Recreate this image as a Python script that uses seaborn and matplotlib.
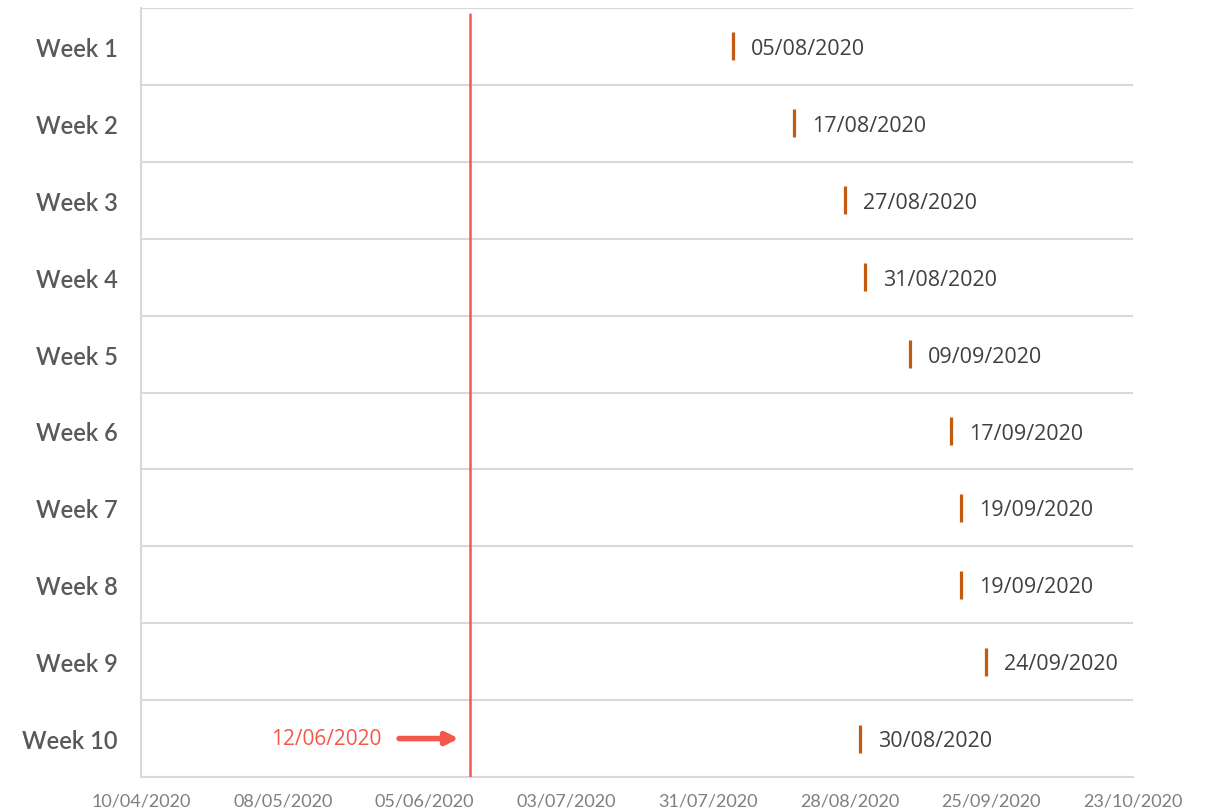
import matplotlib
matplotlib.use("Agg")
import matplotlib.pyplot as plt
import matplotlib.dates as mdates
import seaborn as sns
import pandas as pd

weeks = ["Week 1", "Week 2", "Week 3", "Week 4", "Week 5",
         "Week 6", "Week 7", "Week 8", "Week 9", "Week 10"]
dates = ["2020-08-05", "2020-08-17", "2020-08-27", "2020-08-31", "2020-09-09",
         "2020-09-17", "2020-09-19", "2020-09-19", "2020-09-24", "2020-08-30"]
today_label = "12/06/2020"
today_line = "2020-06-14"
tick_dates = ["2020-04-10", "2020-05-08", "2020-06-05", "2020-07-03",
              "2020-07-31", "2020-08-28", "2020-09-25", "2020-10-23"]

df = pd.DataFrame({"week": weeks, "date": pd.to_datetime(dates)})
df["pos"] = range(len(df))

sns.set_theme(style="white")
plt.rcParams["font.family"] = ["Lato", "DejaVu Sans"]

fig = plt.figure(figsize=(12.09, 8.12), dpi=100)
ax = fig.add_axes([141/1209, 1 - 778/812, (1133-141)/1209, (778-9)/812])

sns.scatterplot(data=df, x="date", y="pos", marker="|", s=380,
                color="#C55A11", linewidth=2.3, ax=ax, legend=False, zorder=3)

for _, r in df.iterrows():
    ax.annotate(r["date"].strftime("%d/%m/%Y"), (r["date"], r["pos"]),
                xytext=(13, -1.5), textcoords="offset points",
                ha="left", va="center", fontsize=15.5, color="#404040",
                family=["Open Sans", "DejaVu Sans"])

tline = pd.Timestamp(today_line)
ax.axvline(tline, ymin=0, ymax=1 - 6/769, color="#F4584A", linewidth=1.8, zorder=4)
ax.annotate("", xy=(tline - pd.Timedelta(days=2.2), 9), xytext=(tline - pd.Timedelta(days=14), 9),
            arrowprops=dict(arrowstyle="-|>,head_length=0.6,head_width=0.3",
                            color="#F4584A", lw=4, shrinkA=0, shrinkB=0))
ax.text(tline - pd.Timedelta(days=17.5), 9, today_label, ha="right", va="center",
        fontsize=15, color="#F4584A", family=["Open Sans", "DejaVu Sans"])

ax.set_xlim(pd.Timestamp(tick_dates[0]), pd.Timestamp(tick_dates[-1]))
ax.set_xticks(pd.to_datetime(tick_dates))
ax.xaxis.set_major_formatter(mdates.DateFormatter("%d/%m/%Y"))
ax.set_ylim(9.5, -0.5)
ax.set_yticks(df["pos"])
ax.set_yticklabels(weeks)
ax.set_yticks([i - 0.5 for i in range(11)], minor=True)
ax.grid(False)
ax.grid(True, which="minor", axis="y", color="#D9D9D9", linewidth=1.5)
ax.set_xlabel("")
ax.set_ylabel("")

for s in ["top", "right"]:
    ax.spines[s].set_visible(False)
for s in ["left", "bottom"]:
    ax.spines[s].set_color("#D9D9D9")
    ax.spines[s].set_linewidth(1.5)

ax.tick_params(axis="y", which="both", length=0, pad=17, labelsize=17, labelcolor="#595959")
for lbl in ax.get_yticklabels():
    lbl.set_fontweight("semibold")
ax.tick_params(axis="x", which="both", length=0, pad=11, labelsize=13, labelcolor="#7F7F7F")

fig.savefig("out.png", dpi=100)
